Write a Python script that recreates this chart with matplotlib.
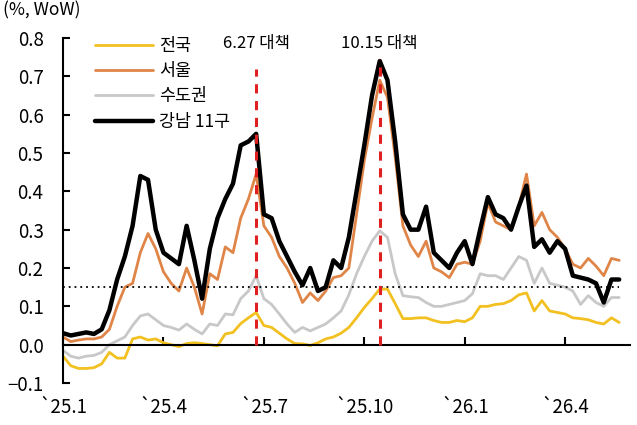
import matplotlib
matplotlib.use("Agg")
import matplotlib.pyplot as plt
import numpy as np

plt.rcParams['font.family'] = ['Noto Sans CJK KR', 'DejaVu Sans']

# 주간 변동률 (%, WoW), 2025.1 첫째 주부터 73주
weeks = np.arange(73)
tick_pos = [0, 13, 26, 39, 52, 65]
tick_labels = ["`25.1", "`25.4", "`25.7", "`25.10", "`26.1", "`26.4"]

nation = [-0.03, -0.055, -0.062, -0.062, -0.06, -0.05, -0.02, -0.035, -0.035, 0.015,
          0.02, 0.012, 0.015, 0.005, 0.0, -0.005, 0.003, 0.005, 0.003, 0.0,
          -0.003, 0.028, 0.032, 0.055, 0.07, 0.084, 0.05, 0.045, 0.03, 0.015,
          0.003, 0.002, -0.002, 0.005, 0.015, 0.02, 0.03, 0.045, 0.07, 0.097,
          0.12, 0.145, 0.145, 0.107, 0.068, 0.068, 0.07, 0.07, 0.063, 0.058,
          0.058, 0.063, 0.06, 0.07, 0.10, 0.10, 0.105, 0.107, 0.115, 0.13,
          0.135, 0.088, 0.115, 0.088, 0.084, 0.08, 0.07, 0.068, 0.065, 0.058,
          0.054, 0.07, 0.058]
seoul = [0.02, 0.008, 0.012, 0.015, 0.015, 0.02, 0.04, 0.10, 0.15, 0.16,
         0.24, 0.29, 0.25, 0.19, 0.16, 0.14, 0.20, 0.15, 0.08, 0.185,
         0.17, 0.255, 0.24, 0.33, 0.38, 0.445, 0.31, 0.28, 0.23, 0.20,
         0.16, 0.11, 0.135, 0.115, 0.14, 0.175, 0.18, 0.20, 0.34, 0.48,
         0.59, 0.69, 0.645, 0.49, 0.31, 0.26, 0.23, 0.27, 0.20, 0.19,
         0.175, 0.21, 0.215, 0.21, 0.27, 0.37, 0.32, 0.31, 0.30, 0.36,
         0.445, 0.31, 0.345, 0.30, 0.28, 0.25, 0.21, 0.20, 0.225, 0.205,
         0.18, 0.225, 0.22]
capital = [-0.015, -0.03, -0.035, -0.03, -0.028, -0.02, 0.0, 0.01, 0.02, 0.05,
           0.075, 0.08, 0.065, 0.05, 0.045, 0.038, 0.054, 0.04, 0.028, 0.054,
           0.05, 0.08, 0.078, 0.12, 0.14, 0.18, 0.12, 0.105, 0.08, 0.054,
           0.032, 0.045, 0.036, 0.045, 0.054, 0.07, 0.088, 0.13, 0.185, 0.23,
           0.27, 0.297, 0.28, 0.185, 0.128, 0.125, 0.123, 0.11, 0.10, 0.10,
           0.105, 0.11, 0.115, 0.133, 0.185, 0.18, 0.18, 0.17, 0.20, 0.23,
           0.22, 0.16, 0.20, 0.16, 0.155, 0.15, 0.14, 0.105, 0.128, 0.11,
           0.10, 0.123, 0.123]
gangnam = [0.03, 0.024, 0.028, 0.032, 0.028, 0.04, 0.09, 0.17, 0.23, 0.31,
           0.44, 0.43, 0.30, 0.24, 0.225, 0.21, 0.31, 0.22, 0.12, 0.25,
           0.33, 0.38, 0.42, 0.52, 0.53, 0.55, 0.34, 0.33, 0.27, 0.23,
           0.19, 0.155, 0.20, 0.14, 0.15, 0.22, 0.20, 0.28, 0.40, 0.52,
           0.65, 0.74, 0.69, 0.53, 0.34, 0.30, 0.30, 0.36, 0.24, 0.22,
           0.20, 0.24, 0.27, 0.21, 0.30, 0.385, 0.34, 0.33, 0.30, 0.36,
           0.415, 0.255, 0.275, 0.24, 0.27, 0.25, 0.18, 0.175, 0.17, 0.16,
           0.11, 0.17, 0.17]

policy_x = [25, 41]
policy_top = [0.72, 0.745]
policy_labels = ["6.27 대책", "10.15 대책"]
ref_level = 0.15

fig = plt.figure(figsize=(6.37, 4.25), dpi=100)
ax = fig.add_axes([0.099, 0.0988, 0.89, 0.8118])

kw = dict(solid_joinstyle='round', solid_capstyle='round')
ax.plot(weeks, nation, color='#f2c020', lw=2.0, label='전국', **kw)
ax.plot(weeks, seoul, color='#e08548', lw=2.0, label='서울', **kw)
ax.plot(weeks, capital, color='#c8c8c8', lw=2.0, label='수도권', **kw)
ax.plot(weeks, gangnam, color='black', lw=3.2, label='강남 11구', **kw)

# 기준선 0.15
ax.plot([weeks[0], weeks[-1]], [ref_level, ref_level], color='black', lw=1.3, ls=(0, (1, 2.2)))

# 대책 발표 시점
for px, top, lab in zip(policy_x, policy_top, policy_labels):
    ax.vlines(px, 0, top, colors='#e02020', linestyles=(0, (3, 2.5)), lw=2.2, zorder=5)
    ax.text(px, 0.785, lab, ha='center', va='center', fontsize=12)

ax.set_xlim(0, 73.4)
ax.set_ylim(-0.1, 0.8)
ax.set_yticks(np.arange(-0.1, 0.81, 0.1))
ax.set_yticklabels([f"{v:.1f}".replace('-', '\u2212') for v in np.arange(-0.1, 0.81, 0.1)])
ax.set_xticks(tick_pos)
ax.set_xticklabels(tick_labels)

for s in ['top', 'right']:
    ax.spines[s].set_visible(False)
ax.spines['bottom'].set_position(('data', 0))
ax.spines['left'].set_linewidth(1.5)
ax.spines['bottom'].set_linewidth(1.5)
ax.tick_params(axis='y', direction='in', length=5, width=1.5, labelsize=13.5, pad=14)
ax.tick_params(axis='x', direction='in', length=6, width=1.5, labelsize=13.5, pad=38)

fig.text(0.005, 0.975, "(%, WoW)", fontsize=12.5, ha='left', va='center')

ax.legend(loc='upper left', bbox_to_anchor=(0.125, 0.95), bbox_transform=fig.transFigure,
          frameon=False, fontsize=12.5, handlelength=3.3, labelspacing=0.42, handletextpad=0.4)

plt.savefig("out.png", dpi=100)
